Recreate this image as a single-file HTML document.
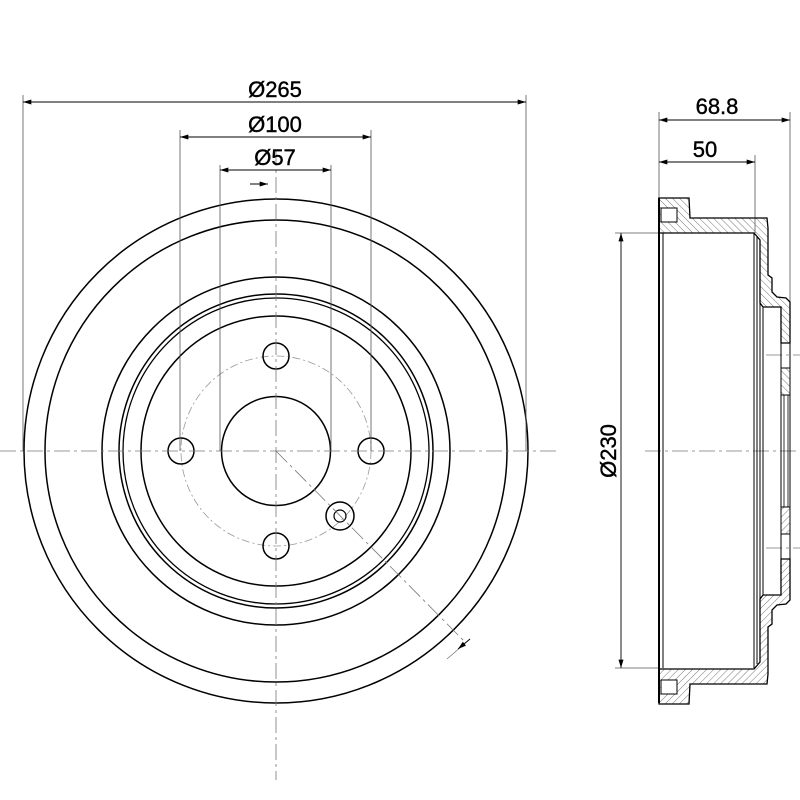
<!DOCTYPE html>
<html><head><meta charset="utf-8"><style>html,body{margin:0;padding:0;background:#fff}svg{display:block}</style></head>
<body>
<svg width="800" height="800" viewBox="0 0 800 800" xmlns="http://www.w3.org/2000/svg" font-family="Liberation Sans, Arial, sans-serif">
<defs>
<pattern id="h" width="5" height="5" patternUnits="userSpaceOnUse" patternTransform="rotate(-45)">
<line x1="0" y1="0" x2="0" y2="5" stroke="#777" stroke-width="1"/>
</pattern>
<marker id="a" viewBox="0 0 10 6" refX="10" refY="3" markerWidth="12" markerHeight="5" orient="auto-start-reverse" markerUnits="userSpaceOnUse"><path d="M0,0 L10,3 L0,6z" fill="#000"/></marker>
</defs>
<g fill="none" stroke="#000">
<circle cx="276" cy="451" r="252" stroke-width="1.5"/>
<circle cx="276" cy="451" r="231" stroke-width="1.5"/>
<circle cx="276" cy="451" r="174" stroke-width="1.5"/>
<circle cx="276" cy="451" r="157" stroke-width="1.5"/>
<circle cx="276" cy="451" r="153" stroke-width="1.3"/>
<circle cx="276" cy="451" r="135" stroke-width="1.5"/>
<circle cx="276" cy="451" r="95" stroke="#999" stroke-width="0.8" stroke-dasharray="8,3,2,3"/>
<circle cx="276" cy="451" r="54.5" stroke-width="1.5"/>
<circle cx="276" cy="356" r="13" stroke-width="1.5"/>
<circle cx="276" cy="546" r="13" stroke-width="1.5"/>
<circle cx="181" cy="451" r="13" stroke-width="1.5"/>
<circle cx="371" cy="451" r="13" stroke-width="1.5"/>
<circle cx="340" cy="516" r="14" stroke-width="1.5"/>
<circle cx="340" cy="516" r="6" stroke-width="1.2"/>
<g stroke="#777" stroke-width="0.8" stroke-dasharray="16,4,3,4">
<line x1="0" y1="451" x2="560" y2="451"/>
<line x1="276" y1="150" x2="276" y2="780"/>
<line x1="276" y1="451" x2="466" y2="643"/>
<line x1="645" y1="451" x2="800" y2="451"/>
<line x1="766" y1="355" x2="800" y2="355"/>
<line x1="766" y1="548" x2="800" y2="548"/>
</g>
<line x1="447" y1="659" x2="470" y2="639" stroke="#777" stroke-width="0.8"/>
<g stroke="#555" stroke-width="0.8">
<line x1="23" y1="95" x2="23" y2="451"/>
<line x1="526" y1="95" x2="526" y2="451"/>
<line x1="180" y1="130" x2="180" y2="451"/>
<line x1="371" y1="130" x2="371" y2="451"/>
<line x1="220" y1="165" x2="220" y2="451"/>
<line x1="331" y1="165" x2="331" y2="451"/>
<line x1="659" y1="112" x2="659" y2="198"/>
<line x1="790" y1="112" x2="790" y2="302"/>
<line x1="755" y1="155" x2="755" y2="233"/>
<line x1="615" y1="233" x2="659" y2="233"/>
<line x1="615" y1="668" x2="659" y2="668"/>
</g>
<g stroke="#000" stroke-width="0.9">
<line x1="23" y1="102" x2="526" y2="102" marker-start="url(#a)" marker-end="url(#a)"/>
<line x1="180" y1="137" x2="371" y2="137" marker-start="url(#a)" marker-end="url(#a)"/>
<line x1="220" y1="170" x2="331" y2="170" marker-start="url(#a)" marker-end="url(#a)"/>
<line x1="659" y1="120" x2="790" y2="120" marker-start="url(#a)" marker-end="url(#a)"/>
<line x1="659" y1="162" x2="755" y2="162" marker-start="url(#a)" marker-end="url(#a)"/>
<line x1="621" y1="233" x2="621" y2="668" marker-start="url(#a)" marker-end="url(#a)"/>
<line x1="250" y1="184" x2="268" y2="184" marker-end="url(#a)"/>
<line x1="470" y1="639" x2="458" y2="649" marker-end="url(#a)"/>
</g>
<g id="half">
<path d="M659,198 L689,198 L690,218 L767,218 L768,228 L768,275 L772,278 L772,292 L777,297 L786,298 L790,302 L790,343 L781,343 L781,307 L763,307 L760,303 L760,240 L754,233 L659,233 Z" fill="url(#h)" stroke="#000" stroke-width="1.3"/>
<rect x="661" y="208" width="16" height="14" fill="#fff" stroke="#000" stroke-width="1"/>
<rect x="781" y="368" width="9" height="27" fill="url(#h)" stroke="#000" stroke-width="1"/>
<line x1="781" y1="343" x2="781" y2="451" stroke-width="1"/>
<line x1="790" y1="343" x2="790" y2="451" stroke-width="1"/>
<line x1="784" y1="395" x2="784" y2="451" stroke-width="0.8"/>
<line x1="788" y1="395" x2="788" y2="451" stroke-width="0.8"/>
</g>
<use href="#half" transform="translate(0,902) scale(1,-1)"/>
<line x1="659" y1="198" x2="659" y2="703" stroke-width="2"/>
<line x1="663" y1="233" x2="663" y2="668" stroke-width="1"/>
<line x1="754" y1="233" x2="754" y2="668" stroke-width="1"/>
<line x1="757" y1="237" x2="757" y2="664" stroke-width="1"/>
<line x1="760" y1="303" x2="760" y2="599" stroke-width="1"/>
<line x1="763" y1="307" x2="763" y2="595" stroke-width="1"/>
</g>
<g font-size="22" fill="#000" text-anchor="middle" stroke="#000" stroke-width="0.4">
<text x="275" y="97">Ø265</text>
<text x="275" y="132">Ø100</text>
<text x="275" y="165">Ø57</text>
<text x="717" y="114">68.8</text>
<text x="705" y="157">50</text>
<text transform="translate(616,451) rotate(-90)">Ø230</text>
</g>
</svg>
</body></html>
